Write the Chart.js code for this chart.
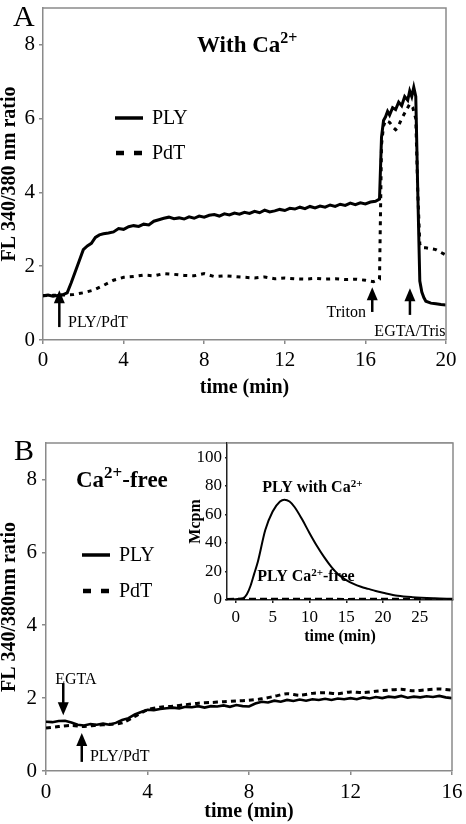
<!DOCTYPE html>
<html><head><meta charset="utf-8">
<script src="https://cdn.jsdelivr.net/npm/chart.js@4.4.1/dist/chart.umd.min.js"></script>
<style>
html,body{margin:0;padding:0;background:#fff;}
#wrap{position:relative;width:466px;height:824px;overflow:hidden;background:#fff;}
canvas{position:absolute;display:block;}
</style></head><body>
<div id="wrap">
<canvas id="cA" width="466" height="400" style="left:0;top:0;width:466px;height:400px"></canvas>
<canvas id="cB" width="466" height="424" style="left:0;top:400px;width:466px;height:424px"></canvas>
<canvas id="cI" width="286" height="212" style="left:180px;top:437px;width:286px;height:212px"></canvas>
</div>
<script>
// ---------- Panel A data (with Ca2+) ----------
const timeA_PLY = [0,0.25,0.5,0.75,1.0,1.2,1.4,1.6,1.8,2.0,2.2,2.4,2.6,2.8,3.0,3.25,3.5,3.75,4.0,4.25,4.5,4.75,5.0,5.25,5.5,5.75,6.0,6.25,6.5,6.75,7.0,7.25,7.5,7.75,8.0,8.25,8.5,8.75,9.0,9.25,9.5,9.75,10.0,10.25,10.5,10.75,11.0,11.25,11.5,11.75,12.0,12.25,12.5,12.75,13.0,13.25,13.5,13.75,14.0,14.25,14.5,14.75,15.0,15.25,15.5,15.75,16.0,16.25,16.5,16.7,16.8,16.9,17.0,17.1,17.2,17.35,17.5,17.65,17.8,17.95,18.1,18.2,18.3,18.4,18.5,18.6,18.7,18.8,18.9,19.0,19.25,19.5,19.75,20.0];
const ratioA_PLY = [1.20,1.22,1.19,1.21,1.23,1.28,1.55,1.85,2.15,2.45,2.55,2.62,2.78,2.85,2.88,2.90,2.93,3.02,3.00,3.07,3.10,3.08,3.14,3.12,3.22,3.26,3.30,3.33,3.29,3.31,3.28,3.34,3.30,3.36,3.33,3.38,3.40,3.36,3.42,3.39,3.44,3.41,3.46,3.43,3.49,3.45,3.52,3.47,3.50,3.54,3.51,3.57,3.55,3.60,3.56,3.62,3.58,3.63,3.60,3.66,3.62,3.68,3.65,3.71,3.67,3.72,3.69,3.74,3.76,3.82,5.50,5.95,6.05,6.20,6.10,6.30,6.25,6.45,6.35,6.60,6.50,6.75,6.60,6.85,6.60,4.00,1.60,1.30,1.15,1.05,1.00,0.98,0.96,0.95];
const timeA_PdT = [0,0.5,1.0,1.5,2.0,2.5,3.0,3.5,4.0,4.5,5.0,5.5,6.0,6.5,7.0,7.5,8.0,8.5,9.0,9.5,10.0,10.5,11.0,11.5,12.0,12.5,13.0,13.5,14.0,14.5,15.0,15.5,16.0,16.4,16.7,16.8,16.9,17.0,17.2,17.4,17.5,17.6,17.8,18.0,18.2,18.35,18.5,18.6,18.7,18.8,19.0,19.5,20.0];
const ratioA_PdT = [1.20,1.21,1.22,1.23,1.28,1.35,1.48,1.62,1.70,1.72,1.76,1.74,1.80,1.78,1.75,1.74,1.80,1.72,1.74,1.72,1.70,1.68,1.71,1.66,1.68,1.66,1.65,1.67,1.65,1.66,1.64,1.65,1.62,1.58,1.65,5.30,5.80,5.95,5.90,5.75,5.70,5.75,6.00,6.20,6.40,6.30,6.00,4.00,2.60,2.50,2.50,2.45,2.30];
const ticksA_x = [0,4,8,12,16,20];
const ticksA_y = [0,2,4,6,8];

// ---------- Panel B data (Ca2+-free) ----------
const timeB_PLY = [0,0.25,0.5,0.75,1.0,1.25,1.5,1.75,2.0,2.25,2.5,2.75,3.0,3.25,3.5,3.75,4.0,4.25,4.5,4.75,5.0,5.25,5.5,5.75,6.0,6.25,6.5,6.75,7.0,7.25,7.5,7.75,8.0,8.25,8.5,8.75,9.0,9.25,9.5,9.75,10.0,10.25,10.5,10.75,11.0,11.25,11.5,11.75,12.0,12.25,12.5,12.75,13.0,13.25,13.5,13.75,14.0,14.25,14.5,14.75,15.0,15.25,15.5,15.75,16.0];
const ratioB_PLY = [1.35,1.34,1.37,1.38,1.33,1.27,1.25,1.29,1.27,1.30,1.27,1.32,1.40,1.45,1.55,1.62,1.68,1.67,1.70,1.72,1.74,1.72,1.76,1.75,1.78,1.74,1.78,1.77,1.80,1.76,1.81,1.78,1.77,1.85,1.90,1.88,1.93,1.90,1.95,1.92,1.96,1.93,1.97,1.95,1.98,1.95,1.99,1.97,2.00,1.97,2.02,1.99,2.03,2.00,2.04,2.02,2.06,2.01,2.04,2.02,2.05,2.03,2.06,2.02,2.00];
const timeB_PdT = [0,0.5,1.0,1.5,2.0,2.5,3.0,3.5,4.0,4.5,5.0,5.5,6.0,6.5,7.0,7.5,8.0,8.5,9.0,9.5,10.0,10.5,11.0,11.5,12.0,12.5,13.0,13.5,14.0,14.5,15.0,15.5,16.0];
const ratioB_PdT = [1.18,1.22,1.25,1.22,1.26,1.28,1.32,1.50,1.68,1.75,1.78,1.82,1.86,1.88,1.90,1.92,1.94,1.98,2.05,2.12,2.08,2.13,2.15,2.12,2.17,2.15,2.19,2.22,2.24,2.20,2.23,2.25,2.22];
const ticksB_x = [0,4,8,12,16];
const ticksB_y = [0,2,4,6,8];

// ---------- Inset data (Mcpm) ----------
const timeInset = [-1.2,0,1,1.5,2,2.5,3,4,5,6,6.6,7.3,8,9,10,11,12,13,14,15,16,17,18,19,20,22,24,27,29.5];
const mcpmWithCa = [0.3,0.6,1.2,4,10,18.5,27,49,62,69,70.3,69,65,56.5,47,38,30,23,17.5,14,11.3,9.3,7.8,6.3,5.1,3.0,2.0,1.2,0.8];
const timeInsetFree = [-1.2,5,10,15,20,25,29.5];
const mcpmCaFree = [0.6,0.7,0.7,0.6,0.7,0.6,0.6];
const ticksI_x = [0,5,10,15,20,25];
const ticksI_y = [0,20,40,60,80,100];

// ---------- Texts ----------
const xTitle = 'time (min)';
const yTitleA = 'FL 340/380 nm ratio';
const yTitleB = 'FL 340/380nm ratio';
const legendNames = ['PLY','PdT'];

const FONT = "'Liberation Serif','Times New Roman',serif";
const GRAY = '#8a8a8a';

function zip(xs, ys){ return xs.map((x,i)=>({x:x,y:ys[i]})); }

function drawRich(ctx, x, y, parts, align){
  let total = 0;
  parts.forEach(p=>{ ctx.font=(p.bold?'bold ':'')+p.size+'px '+FONT; p.w=ctx.measureText(p.t).width; total+=p.w; });
  let cx = align==='center' ? x-total/2 : (align==='right'? x-total : x);
  ctx.textAlign='left'; ctx.textBaseline='alphabetic'; ctx.fillStyle='#000';
  parts.forEach(p=>{ ctx.font=(p.bold?'bold ':'')+p.size+'px '+FONT; ctx.fillText(p.t, cx, y-(p.rise||0)); cx+=p.w; });
}
function drawArrow(ctx, x, yBase, yTip, headW, headH, lw){
  ctx.save();
  ctx.strokeStyle='#000'; ctx.fillStyle='#000'; ctx.lineWidth=lw;
  const dir = yTip < yBase ? 1 : -1; // 1 = pointing up
  ctx.beginPath(); ctx.moveTo(x, yBase); ctx.lineTo(x, yTip + dir*headH*0.8); ctx.stroke();
  ctx.beginPath(); ctx.moveTo(x, yTip); ctx.lineTo(x-headW/2, yTip+dir*headH); ctx.lineTo(x+headW/2, yTip+dir*headH); ctx.closePath(); ctx.fill();
  ctx.restore();
}
function drawFrame(chart, col, lw){
  const a = chart.chartArea, ctx = chart.ctx;
  ctx.save(); ctx.strokeStyle=col; ctx.lineWidth=lw;
  ctx.beginPath(); ctx.moveTo(a.left, a.top); ctx.lineTo(a.right, a.top); ctx.lineTo(a.right, a.bottom); ctx.stroke();
  ctx.restore();
}
function drawLegend(ctx, x0, x1, y, gap, fs){
  ctx.save(); ctx.strokeStyle='#000'; ctx.lineWidth=3.5;
  ctx.beginPath(); ctx.moveTo(x0,y); ctx.lineTo(x1,y); ctx.stroke();
  ctx.setLineDash([8,10]); ctx.lineWidth=4.5;
  ctx.beginPath(); ctx.moveTo(x0+1,y+gap); ctx.lineTo(x1,y+gap); ctx.stroke();
  ctx.restore();
  ctx.font=fs+'px '+FONT; ctx.fillStyle='#000'; ctx.textAlign='left'; ctx.textBaseline='middle';
  ctx.fillText(legendNames[0], x1+9, y+1);
  ctx.fillText(legendNames[1], x1+9, y+gap+1);
}

function axisCfg(min, max, ticksArr, fitSize, isX, fontSize, tickPad, titleText, titleSize, titleLH, borderCol){
  return {
    type:'linear', min:min, max:max,
    afterBuildTicks: s=>{ s.ticks = ticksArr.map(v=>({value:v})); },
    afterFit: s=>{ if(isX){ s.height=fitSize; s.paddingLeft=0; s.paddingRight=0; } else { s.width=fitSize; s.paddingTop=0; s.paddingBottom=0; } },
    ticks:{ font:{family:FONT, size:fontSize}, color:'#000', padding:tickPad, maxRotation:0, autoSkip:false, callback:v=>String(v) },
    grid:{ display:true, drawOnChartArea:false, drawTicks:true, tickLength:isX?4:4, color:borderCol, lineWidth:1.5 },
    border:{ display:true, color:borderCol, width:1.5 },
    title:{ display:true, text:titleText, color:'#000', font:{family:FONT, size:titleSize, weight:'bold', lineHeight:titleLH}, padding:{top:0,bottom:0} }
  };
}

// ---------- Chart A ----------
const annotA = {
  id:'annotA',
  afterDraw(chart){
    const ctx=chart.ctx, xs=chart.scales.x, ys=chart.scales.y;
    drawFrame(chart, GRAY, 1.5);
    ctx.save();
    ctx.font='30px '+FONT; ctx.fillStyle='#000'; ctx.textAlign='left'; ctx.textBaseline='alphabetic';
    ctx.fillText('A', 13, 26);
    drawRich(ctx, 197, 52, [{t:'With Ca',size:23,bold:true},{t:'2+',size:16,bold:true,rise:9}], 'left');
    drawLegend(ctx, 115, 143, 118, 35, 20);
    // arrows
    [[0.81,0.35,1.35],[16.34,0.76,1.43],[18.21,0.68,1.40]].forEach(a=>{
      drawArrow(ctx, xs.getPixelForValue(a[0]), ys.getPixelForValue(a[1]), ys.getPixelForValue(a[2]), 11, 13, 2.5);
    });
    ctx.font='16px '+FONT; ctx.textBaseline='middle'; ctx.fillStyle='#000';
    ctx.textAlign='left';  ctx.fillText('PLY/PdT', xs.getPixelForValue(1.24), ys.getPixelForValue(0.46));
    ctx.textAlign='right'; ctx.fillText('Triton', xs.getPixelForValue(16.03), ys.getPixelForValue(0.73));
    ctx.textAlign='right'; ctx.fillText('EGTA/Tris', xs.getPixelForValue(19.97), ys.getPixelForValue(0.22));
    ctx.restore();
  }
};
new Chart(document.getElementById('cA'), {
  type:'line',
  data:{ datasets:[
    {label:'PLY', data:zip(timeA_PLY, ratioA_PLY), borderColor:'#000', borderWidth:3, pointRadius:0, tension:0, fill:false},
    {label:'PdT', data:zip(timeA_PdT, ratioA_PdT), borderColor:'#000', borderWidth:3, borderDash:[4,5], pointRadius:0, tension:0, fill:false}
  ]},
  options:{
    responsive:false, animation:false, events:[],
    layout:{ padding:{left:0, top:8, right:20, bottom:0} },
    plugins:{ legend:{display:false}, tooltip:{enabled:false} },
    scales:{
      x: axisCfg(0, 20, ticksA_x, 60, true, 21, 4, xTitle, 20, 1.2, GRAY),
      y: axisCfg(0, 9, ticksA_y, 43, false, 21, 4, yTitleA, 20, 1.0, GRAY)
    }
  },
  plugins:[annotA]
});

// ---------- Chart B ----------
const annotB = {
  id:'annotB',
  afterDraw(chart){
    const ctx=chart.ctx, xs=chart.scales.x, ys=chart.scales.y;
    drawFrame(chart, GRAY, 1.5);
    ctx.save();
    ctx.font='30px '+FONT; ctx.fillStyle='#000'; ctx.textAlign='left'; ctx.textBaseline='alphabetic';
    ctx.fillText('B', 14, 60);
    drawRich(ctx, 76, 87, [{t:'Ca',size:23,bold:true},{t:'2+',size:17,bold:true,rise:9},{t:'-free',size:23,bold:true}], 'left');
    drawLegend(ctx, 82, 110, 155, 36, 20);
    drawArrow(ctx, xs.getPixelForValue(0.68), ys.getPixelForValue(2.41), ys.getPixelForValue(1.53), 11, 13, 2.5);
    drawArrow(ctx, xs.getPixelForValue(1.41), ys.getPixelForValue(0.25), ys.getPixelForValue(1.04), 11, 13, 2.5);
    ctx.font='16px '+FONT; ctx.textBaseline='middle'; ctx.fillStyle='#000';
    ctx.textAlign='center'; ctx.fillText('EGTA', xs.getPixelForValue(1.18), ys.getPixelForValue(2.49));
    ctx.textAlign='left';   ctx.fillText('PLY/PdT', xs.getPixelForValue(1.73), ys.getPixelForValue(0.38));
    ctx.restore();
  }
};
new Chart(document.getElementById('cB'), {
  type:'line',
  data:{ datasets:[
    {label:'PLY', data:zip(timeB_PLY, ratioB_PLY), borderColor:'#000', borderWidth:2.6, pointRadius:0, tension:0, fill:false},
    {label:'PdT', data:zip(timeB_PdT, ratioB_PdT), borderColor:'#000', borderWidth:3, borderDash:[5,4], pointRadius:0, tension:0.3, fill:false}
  ]},
  options:{
    responsive:false, animation:false, events:[],
    layout:{ padding:{left:0, top:43, right:14, bottom:0} },
    plugins:{ legend:{display:false}, tooltip:{enabled:false} },
    scales:{
      x: axisCfg(0, 16, ticksB_x, 53, true, 21, 5, xTitle, 20, 1.2, GRAY),
      y: axisCfg(0, 9, ticksB_y, 46, false, 21, 5, yTitleB, 20, 1.0, GRAY)
    }
  },
  plugins:[annotB]
});

// ---------- Inset ----------
const annotI = {
  id:'annotI',
  beforeDraw(chart){
    const a=chart.chartArea, ctx=chart.ctx;
    ctx.save(); ctx.fillStyle='#fff'; ctx.fillRect(a.left, a.top, a.right-a.left, a.bottom-a.top); ctx.restore();
  },
  afterDraw(chart){
    const ctx=chart.ctx, xs=chart.scales.x, ys=chart.scales.y;
    drawFrame(chart, GRAY, 1.5);
    ctx.save();
    drawRich(ctx, xs.getPixelForValue(3.6), ys.getPixelForValue(76), [{t:'PLY with Ca',size:16,bold:true},{t:'2+',size:11,bold:true,rise:5}], 'left');
    drawRich(ctx, xs.getPixelForValue(2.9), ys.getPixelForValue(13.2), [{t:'PLY Ca',size:16,bold:true},{t:'2+',size:11,bold:true,rise:5},{t:'-free',size:16,bold:true}], 'left');
    ctx.restore();
  }
};
const insetX = axisCfg(-1.2, 29.5, ticksI_x, 49, true, 17, 4, xTitle, 16, 1.2, '#222');
insetX.title.padding = {top:0, bottom:3};
insetX.grid.tickLength = 3;
const insetY = axisCfg(0, 110, ticksI_y, 47, false, 17, 3, 'Mcpm', 16, 1.2, '#222');
insetY.title.padding = {top:6, bottom:0};
insetY.grid.tickLength = 2;
new Chart(document.getElementById('cI'), {
  type:'line',
  data:{ datasets:[
    {label:'PLY with Ca2+', data:zip(timeInset, mcpmWithCa), borderColor:'#000', borderWidth:2, pointRadius:0, cubicInterpolationMode:'monotone', fill:false},
    {label:'PLY Ca2+-free', data:zip(timeInsetFree, mcpmCaFree), borderColor:'#000', borderWidth:2.5, borderDash:[7,4], pointRadius:0, tension:0, fill:false}
  ]},
  options:{
    responsive:false, animation:false, events:[],
    layout:{ padding:{left:0, top:6, right:13, bottom:0} },
    plugins:{ legend:{display:false}, tooltip:{enabled:false} },
    scales:{ x: insetX, y: insetY }
  },
  plugins:[annotI]
});
</script>
</body></html>
